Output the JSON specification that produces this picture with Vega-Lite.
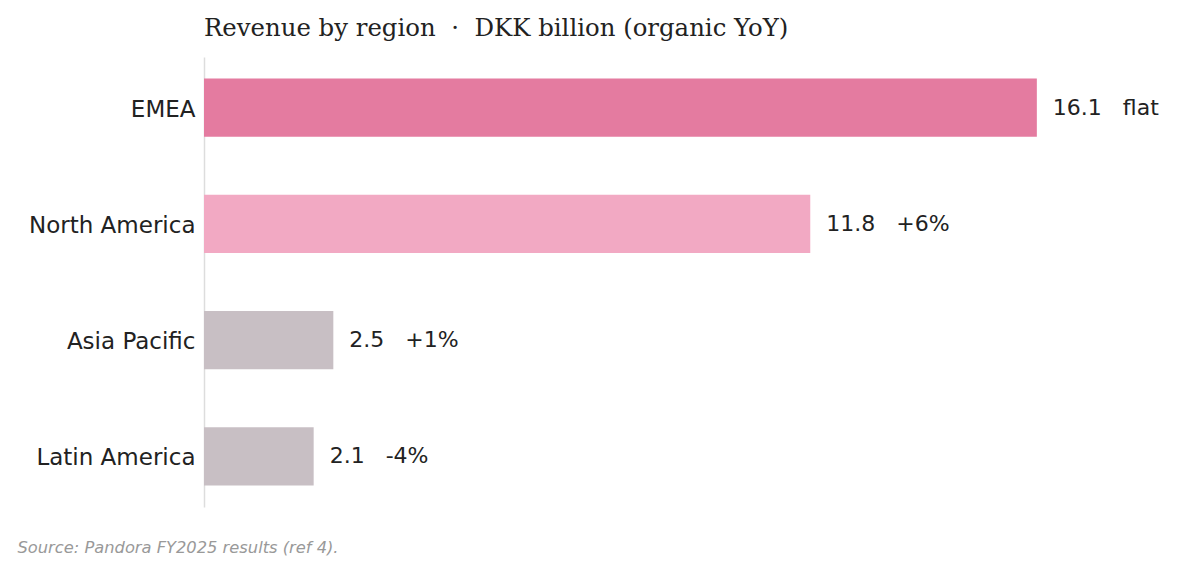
{
  "$schema": "https://vega.github.io/schema/vega-lite/v6.json",
  "width": 957,
  "height": 450,
  "autosize": {"type": "none"},
  "padding": {"left": 204, "top": 57, "right": 39, "bottom": 65},
  "background": "white",
  "title": {
    "text": "Revenue by region \u00a0·\u00a0 DKK billion (organic YoY)",
    "anchor": "start",
    "frame": "group",
    "font": "DejaVu Serif",
    "fontSize": 24.4,
    "fontWeight": "normal",
    "color": "#222222",
    "baseline": "alphabetic",
    "offset": -3
  },
  "data": {
    "values": [
      {"region": "EMEA", "revenue": 16.1, "label": "16.1\u00a0\u00a0\u00a0flat", "group": "EMEA"},
      {"region": "North America", "revenue": 11.72, "label": "11.8\u00a0\u00a0\u00a0+6%", "group": "North America"},
      {"region": "Asia Pacific", "revenue": 2.5, "label": "2.5\u00a0\u00a0\u00a0+1%", "group": "Other"},
      {"region": "Latin America", "revenue": 2.12, "label": "2.1\u00a0\u00a0\u00a0-4%", "group": "Other"}
    ]
  },
  "encoding": {
    "y": {
      "field": "region",
      "type": "nominal",
      "sort": null,
      "scale": {"paddingInner": 0.5, "paddingOuter": 0.185},
      "axis": {
        "title": null,
        "ticks": false,
        "labelPadding": 9,
        "labelOffset": 2,
        "labelFont": "DejaVu Sans",
        "labelFontSize": 23,
        "labelColor": "#222222",
        "domainColor": "#dddddd",
        "domainWidth": 1.5
      }
    },
    "x": {
      "field": "revenue",
      "type": "quantitative",
      "scale": {"domain": [0, 18.5], "nice": false},
      "axis": {
        "labels": false,
        "ticks": false,
        "domain": false,
        "grid": false,
        "title": "Source: Pandora FY2025 results (ref 4).",
        "titleAnchor": "start",
        "titleX": -187,
        "titleY": 45,
        "titleBaseline": "alphabetic",
        "titleFont": "DejaVu Sans",
        "titleFontSize": 16.3,
        "titleFontStyle": "italic",
        "titleFontWeight": "normal",
        "titleColor": "#999999"
      }
    }
  },
  "layer": [
    {
      "mark": {"type": "bar"},
      "encoding": {
        "color": {
          "field": "group",
          "type": "nominal",
          "scale": {"domain": ["EMEA", "North America", "Other"], "range": ["#e47ba0", "#f2a9c3", "#c8bfc4"]},
          "legend": null
        }
      }
    },
    {
      "mark": {"type": "text", "align": "left", "baseline": "middle", "dx": 16, "font": "DejaVu Sans", "fontSize": 22, "color": "#222222"},
      "encoding": {"text": {"field": "label"}}
    }
  ],
  "config": {"view": {"stroke": null}}
}
